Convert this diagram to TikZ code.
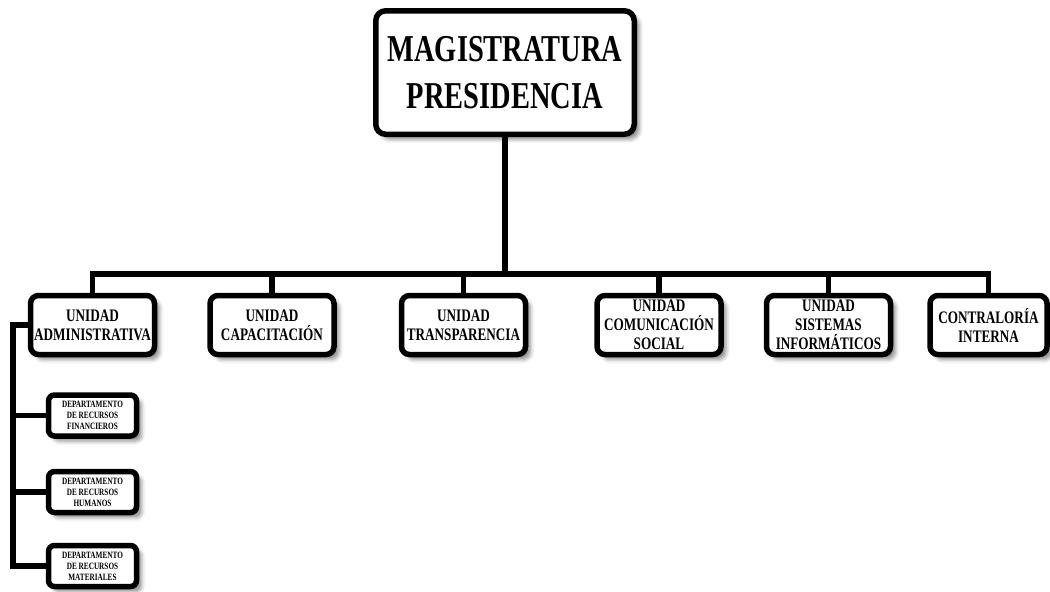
\documentclass[tikz,border=0pt]{standalone}
\usepackage{fontspec}
\setmainfont{Liberation Serif}[FakeStretch=0.75]
\usepackage{tikz}
\usetikzlibrary{calc}
\usetikzlibrary{positioning}
\usetikzlibrary{shadows.blur}

\begin{document}
\begin{tikzpicture}[-,line width=0.11cm,line join=miter,node distance=1cm]
 \tikzstyle{box}=[draw, fill=white, align=center, inner sep=1pt, blur shadow={shadow xshift=0.1cm, shadow yshift=-0.1cm, shadow blur radius=0.08cm, shadow opacity=45}]
 \tikzstyle{head}=[box, rounded corners=0.2cm, minimum width=5.17cm, minimum height=2.47cm, font=\bfseries\fontsize{21.6}{26.7}\selectfont]
 \tikzstyle{unit}=[box, rounded corners=0.16cm, minimum width=2.48cm, minimum height=1.18cm, font=\bfseries\fontsize{10}{10.8}\selectfont]
 \tikzstyle{dept}=[box, rounded corners=0.12cm, minimum width=1.76cm, minimum height=0.82cm, font=\bfseries\fontsize{5.5}{6.3}\selectfont]
 \useasboundingbox (0,0) rectangle (21,-11.82);
 		\node[head]   (pres) at (10.1,-1.45)            {MAGISTRATURA\\PRESIDENCIA};
 		\node[unit]   (admin) at (1.85,-6.5)            {UNIDAD\\ADMINISTRATIVA};
 		\node[unit]   (capac) [right=1cm of admin]      {UNIDAD\\CAPACITACIÓN};
 		\node[unit]   (transp) [right=1.24cm of capac]  {UNIDAD\\TRANSPARENCIA};
 		\node[unit]   (comm) [right=1.32cm of transp]   {UNIDAD\\COMUNICACIÓN\\SOCIAL};
 		\node[unit]   (sist) [right=0.8cm of comm]      {UNIDAD\\SISTEMAS\\INFORMÁTICOS};
 		\node[unit, minimum width=2.34cm] (contra) [right=0.68cm of sist] {CONTRALORÍA\\INTERNA};
 		\node[dept]   (fin) [below=0.7cm of admin]      {DEPARTAMENTO\\DE RECURSOS\\FINANCIEROS};
 		\node[dept]   (hum) [below=0.6cm of fin]        {DEPARTAMENTO\\DE RECURSOS\\HUMANOS};
 		\node[dept]   (mat) [below=0.55cm of hum]       {DEPARTAMENTO\\DE RECURSOS\\MATERIALES};
 		% connectors
 		\coordinate (bar) at (0,-5.48);
 		\coordinate (spine) at (0.26,0);
 		\draw (pres.south) -- (pres.south |- bar);
 		\draw (admin.north) -- (admin.north |- bar) -- (contra.north |- bar) -- (contra.north);
 		\foreach \n in {capac,transp,comm,sist}
 			\draw (\n.north) -- (\n.north |- bar);
 		\draw (admin.west) -- (admin.west -| spine) |- (mat.west);
 		\foreach \n in {fin,hum}
 			\draw (\n.west) -- (\n.west -| spine);
\end{tikzpicture}
\end{document}
